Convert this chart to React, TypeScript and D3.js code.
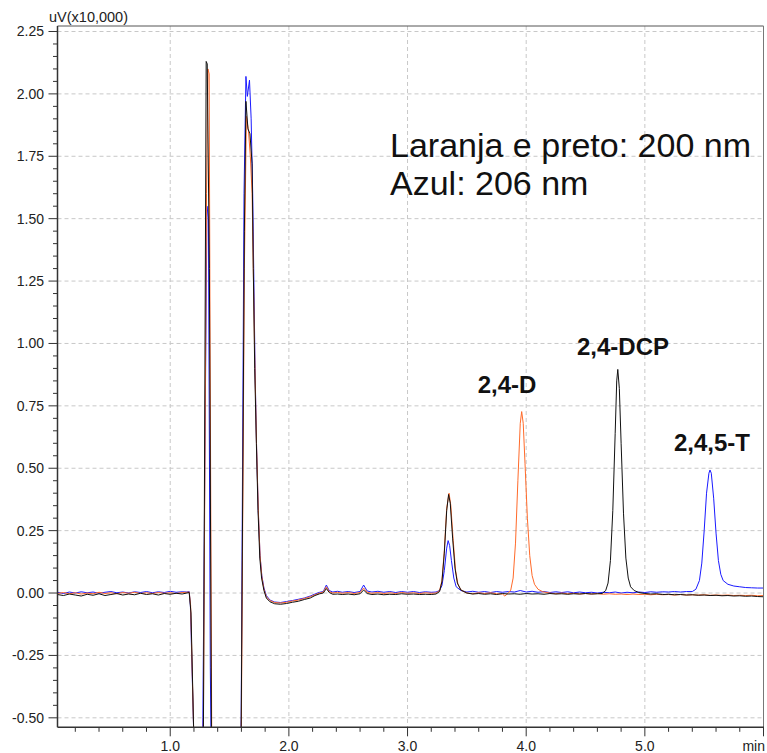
import React from "react";
import * as d3 from "d3";

// Chromatogram traces: [time (min), signal (uV x10,000)]
const blackTrace: [number, number][] = [
  [0.05, -0.006], [0.1, -0.01], [0.15, -0.004], [0.2, -0.008], [0.25, -0.012], [0.3, -0.005],
  [0.35, -0.009], [0.4, -0.003], [0.45, -0.01], [0.5, -0.006], [0.55, -0.002], [0.6, -0.008],
  [0.65, -0.004], [0.7, -0.007], [0.75, -0.001], [0.8, -0.006], [0.85, -0.003], [0.9, -0.008],
  [0.95, -0.002], [1.0, -0.005], [1.05, -0.001], [1.1, -0.004], [1.14, 0.0], [1.16, 0.002],
  [1.175, -0.08], [1.205, -0.7], [1.22, -0.9], [1.265, -0.9], [1.28, -0.55], [1.303, 2.13],
  [1.312, 2.12], [1.33, 1.3], [1.348, -0.6], [1.36, -0.9], [1.585, -0.9], [1.598, -0.55],
  [1.625, 1.45], [1.638, 1.97], [1.655, 1.86], [1.672, 1.84], [1.69, 1.72], [1.7, 1.3],
  [1.712, 0.9], [1.726, 0.6], [1.74, 0.33], [1.755, 0.14], [1.77, 0.06], [1.79, 0.01],
  [1.81, -0.02], [1.84, -0.035], [1.88, -0.043], [1.93, -0.045], [1.98, -0.042], [2.03, -0.037],
  [2.08, -0.033], [2.13, -0.026], [2.18, -0.02], [2.22, -0.01], [2.26, -0.003], [2.29, 0.0],
  [2.316, 0.018], [2.34, 0.002], [2.37, -0.005], [2.41, -0.004], [2.45, -0.006], [2.5, -0.004],
  [2.55, -0.007], [2.6, -0.003], [2.63, 0.012], [2.66, -0.002], [2.7, -0.006], [2.75, -0.004],
  [2.8, -0.007], [2.85, -0.005], [2.9, -0.006], [2.95, -0.003], [3.0, -0.005], [3.05, -0.004],
  [3.1, -0.006], [3.15, -0.005], [3.2, -0.006], [3.24, -0.004], [3.27, 0.006], [3.29, 0.045],
  [3.31, 0.16], [3.33, 0.33], [3.346, 0.395], [3.36, 0.36], [3.38, 0.22], [3.4, 0.1],
  [3.42, 0.04], [3.45, 0.012], [3.5, 0.0], [3.55, -0.004], [3.6, -0.002], [3.65, -0.005],
  [3.7, -0.003], [3.75, -0.006], [3.8, -0.002], [3.85, -0.004], [3.9, -0.003], [3.95, -0.005],
  [4.0, -0.002], [4.05, -0.004], [4.1, -0.003], [4.15, -0.005], [4.2, -0.002], [4.25, -0.004],
  [4.3, -0.003], [4.35, -0.005], [4.4, -0.003], [4.45, -0.004], [4.5, -0.002], [4.55, -0.004],
  [4.6, -0.003], [4.64, -0.002], [4.67, 0.01], [4.69, 0.04], [4.71, 0.13], [4.73, 0.33],
  [4.75, 0.64], [4.763, 0.85], [4.772, 0.896], [4.785, 0.82], [4.8, 0.6], [4.82, 0.32],
  [4.84, 0.14], [4.86, 0.06], [4.88, 0.025], [4.91, 0.01], [4.95, 0.002], [5.0, -0.002],
  [5.05, -0.004], [5.1, -0.003], [5.15, -0.006], [5.2, -0.005], [5.25, -0.007], [5.3, -0.006],
  [5.35, -0.008], [5.4, -0.007], [5.45, -0.009], [5.5, -0.008], [5.55, -0.01], [5.6, -0.009],
  [5.65, -0.011], [5.7, -0.01], [5.75, -0.012], [5.8, -0.011], [5.85, -0.013], [5.9, -0.012],
  [5.95, -0.014], [6.0, -0.015],
];

const orangeTrace: [number, number][] = [
  [0.05, -0.002], [0.1, 0.002], [0.15, -0.003], [0.2, 0.001], [0.25, -0.004], [0.3, 0.0],
  [0.35, -0.003], [0.4, 0.003], [0.45, -0.002], [0.5, 0.001], [0.55, -0.003], [0.6, 0.002],
  [0.65, -0.001], [0.7, 0.003], [0.75, -0.002], [0.8, 0.001], [0.85, -0.002], [0.9, 0.002],
  [0.95, -0.001], [1.0, 0.001], [1.05, -0.002], [1.1, 0.002], [1.14, 0.003], [1.16, 0.004],
  [1.172, -0.05], [1.2, -0.6], [1.215, -0.9], [1.265, -0.9], [1.28, -0.5], [1.306, 1.6],
  [1.318, 2.1], [1.328, 2.08], [1.336, 1.0], [1.35, -0.6], [1.36, -0.9], [1.585, -0.9],
  [1.6, -0.5], [1.625, 1.3], [1.642, 1.91], [1.66, 1.85], [1.675, 1.75], [1.69, 1.6],
  [1.7, 1.3], [1.712, 0.95], [1.727, 0.6], [1.742, 0.34], [1.757, 0.15], [1.772, 0.065],
  [1.79, 0.015], [1.81, -0.015], [1.84, -0.03], [1.88, -0.038], [1.93, -0.04], [1.98, -0.037],
  [2.03, -0.032], [2.08, -0.028], [2.13, -0.022], [2.18, -0.015], [2.22, -0.007], [2.26, 0.0],
  [2.29, 0.004], [2.316, 0.025], [2.34, 0.006], [2.37, 0.0], [2.41, 0.003], [2.45, -0.001],
  [2.5, 0.002], [2.55, -0.002], [2.6, 0.002], [2.63, 0.02], [2.66, 0.003], [2.7, -0.001],
  [2.75, 0.002], [2.8, -0.002], [2.85, 0.001], [2.9, -0.002], [2.95, 0.002], [3.0, -0.001],
  [3.05, 0.001], [3.1, -0.002], [3.15, 0.001], [3.2, -0.001], [3.24, 0.0], [3.27, 0.01],
  [3.29, 0.05], [3.31, 0.17], [3.33, 0.34], [3.35, 0.4], [3.365, 0.35], [3.385, 0.21],
  [3.405, 0.09], [3.425, 0.035], [3.45, 0.012], [3.5, 0.0], [3.55, -0.003], [3.6, 0.001],
  [3.65, -0.002], [3.7, 0.001], [3.75, -0.003], [3.8, -0.004], [3.82, -0.012], [3.85, 0.0],
  [3.87, 0.012], [3.89, 0.06], [3.91, 0.2], [3.93, 0.45], [3.95, 0.68], [3.962, 0.727],
  [3.975, 0.68], [3.99, 0.52], [4.01, 0.3], [4.03, 0.15], [4.05, 0.07], [4.07, 0.035],
  [4.1, 0.015], [4.14, 0.005], [4.2, 0.0], [4.25, -0.003], [4.3, 0.0], [4.35, -0.003],
  [4.4, -0.001], [4.45, -0.004], [4.5, -0.002], [4.55, -0.004], [4.6, -0.002], [4.65, -0.005],
  [4.7, -0.003], [4.75, -0.005], [4.8, -0.004], [4.85, -0.006], [4.9, -0.004], [4.95, -0.006],
  [5.0, -0.005], [5.05, -0.007], [5.1, -0.005], [5.15, -0.007], [5.2, -0.006], [5.25, -0.008],
  [5.3, -0.006], [5.35, -0.008], [5.4, -0.007], [5.45, -0.008], [5.5, -0.007], [5.55, -0.009],
  [5.6, -0.008], [5.65, -0.009], [5.7, -0.008], [5.75, -0.01], [5.8, -0.009], [5.85, -0.01],
  [5.9, -0.009], [5.95, -0.011], [6.0, -0.01],
];

const blueTrace: [number, number][] = [
  [0.05, 0.003], [0.1, -0.002], [0.15, 0.004], [0.2, 0.0], [0.25, 0.005], [0.3, 0.001],
  [0.35, 0.004], [0.4, -0.001], [0.45, 0.003], [0.5, 0.006], [0.55, 0.001], [0.6, 0.004],
  [0.65, 0.0], [0.7, 0.005], [0.75, 0.002], [0.8, 0.006], [0.85, 0.001], [0.9, 0.005],
  [0.95, 0.002], [1.0, 0.007], [1.05, 0.003], [1.1, 0.005], [1.14, 0.004], [1.16, 0.006],
  [1.17, -0.05], [1.2, -0.6], [1.215, -0.9], [1.262, -0.9], [1.275, -0.5], [1.3, 1.0],
  [1.31, 1.55], [1.322, 1.5], [1.338, -0.3], [1.35, -0.9], [1.585, -0.9], [1.598, -0.5],
  [1.622, 1.6], [1.638, 2.07], [1.65, 1.99], [1.668, 2.055], [1.682, 1.9], [1.695, 1.6],
  [1.705, 1.25], [1.715, 0.9], [1.728, 0.58], [1.742, 0.33], [1.757, 0.15], [1.772, 0.07],
  [1.79, 0.02], [1.81, -0.01], [1.84, -0.028], [1.88, -0.036], [1.93, -0.038], [1.98, -0.034],
  [2.03, -0.03], [2.08, -0.025], [2.13, -0.02], [2.18, -0.012], [2.22, -0.004], [2.26, 0.003],
  [2.29, 0.006], [2.316, 0.032], [2.34, 0.01], [2.37, 0.004], [2.41, 0.007], [2.45, 0.003],
  [2.5, 0.006], [2.55, 0.002], [2.6, 0.006], [2.63, 0.032], [2.66, 0.008], [2.7, 0.004],
  [2.75, 0.007], [2.8, 0.003], [2.85, 0.006], [2.9, 0.002], [2.95, 0.006], [3.0, 0.003],
  [3.05, 0.006], [3.1, 0.002], [3.15, 0.005], [3.2, 0.003], [3.24, 0.004], [3.27, 0.01],
  [3.29, 0.03], [3.31, 0.09], [3.33, 0.18], [3.342, 0.21], [3.355, 0.19], [3.37, 0.13],
  [3.39, 0.06], [3.41, 0.025], [3.45, 0.01], [3.5, 0.004], [3.55, 0.007], [3.6, 0.003],
  [3.65, 0.006], [3.7, 0.002], [3.75, 0.006], [3.8, 0.003], [3.85, 0.006], [3.9, 0.004],
  [3.95, 0.01], [4.0, 0.004], [4.05, 0.007], [4.1, 0.003], [4.15, 0.006], [4.2, 0.002],
  [4.25, 0.005], [4.3, 0.002], [4.35, 0.005], [4.4, 0.001], [4.45, 0.004], [4.5, 0.001],
  [4.55, 0.003], [4.6, 0.0], [4.65, 0.003], [4.7, 0.001], [4.75, 0.004], [4.8, 0.0],
  [4.85, 0.003], [4.9, 0.001], [4.95, 0.004], [5.0, 0.002], [5.05, 0.005], [5.1, 0.003],
  [5.15, 0.005], [5.2, 0.004], [5.25, 0.006], [5.3, 0.004], [5.35, 0.006], [5.4, 0.006],
  [5.43, 0.015], [5.46, 0.05], [5.48, 0.12], [5.5, 0.25], [5.52, 0.4], [5.54, 0.48],
  [5.549, 0.493], [5.56, 0.48], [5.58, 0.38], [5.6, 0.24], [5.62, 0.13], [5.64, 0.075],
  [5.66, 0.05], [5.7, 0.035], [5.75, 0.028], [5.8, 0.025], [5.85, 0.022], [5.9, 0.021],
  [5.95, 0.02], [6.0, 0.02],
];

const xMajorTicks = [1, 2, 3, 4, 5];
const xTickLabels = ["1.0", "2.0", "3.0", "4.0", "5.0"];
const yMajorTicks = [-0.5, -0.25, 0, 0.25, 0.5, 0.75, 1.0, 1.25, 1.5, 1.75, 2.0, 2.25];
const yTickLabels = ["-0.50", "-0.25", "0.00", "0.25", "0.50", "0.75", "1.00", "1.25", "1.50", "1.75", "2.00", "2.25"];

const peakLabels = [
  { text: "2,4-D", t: 3.962, v: 0.727 },
  { text: "2,4-DCP", t: 4.772, v: 0.896 },
  { text: "2,4,5-T", t: 5.549, v: 0.493 },
];

const W = 767;
const H = 753;
const left = 57.5;
const right = 763.5;
const top = 26;
const bottom = 727.3;

export default function App() {
  const x = d3.scaleLinear().domain([0.05, 6.0]).range([left, right]);
  const y = d3.scaleLinear().domain([-0.538, 2.272]).range([bottom, top]);
  const line = d3
    .line<[number, number]>()
    .x((d) => x(d[0]))
    .y((d) => y(d[1]));

  const xMinor = d3.range(1, 31).map((i) => i * 0.2);
  const yMinor = d3.range(-10, 46).map((i) => i * 0.05);
  const font = "Arial, 'Liberation Sans', sans-serif";

  return (
    <svg
      width={W}
      height={H}
      style={{ position: "absolute", left: 0, top: 0, background: "#fff" }}
      fontFamily={font}
    >
      <defs>
        <clipPath id="plotClip">
          <rect x={left} y={top} width={right - left} height={bottom - top} />
        </clipPath>
      </defs>
      <rect width={W} height={H} fill="#fff" />

      {/* grid */}
      <g stroke="#c8c8c8" strokeWidth={1} strokeDasharray="4,3">
        {xMajorTicks.map((t) => (
          <line key={"gx" + t} x1={x(t)} x2={x(t)} y1={top} y2={bottom} />
        ))}
        {yMajorTicks.map((v) => (
          <line key={"gy" + v} x1={left} x2={right} y1={y(v)} y2={y(v)} />
        ))}
      </g>

      {/* traces */}
      <g clipPath="url(#plotClip)" fill="none" strokeWidth={1} strokeLinejoin="round">
        <path d={line(blueTrace) || ""} stroke="#1a1aff" />
        <path d={line(orangeTrace) || ""} stroke="#ff6a2a" />
        <path d={line(blackTrace) || ""} stroke="#111" />
      </g>

      {/* frame */}
      <line x1={left} x2={right} y1={top} y2={top} stroke="#555" strokeWidth={1} />
      <line x1={right} x2={right} y1={top} y2={bottom} stroke="#777" strokeWidth={1} />
      <line x1={left} x2={left} y1={top} y2={bottom} stroke="#333" strokeWidth={1.5} />
      <line x1={left} x2={right + 0.5} y1={bottom} y2={bottom} stroke="#333" strokeWidth={1.5} />

      {/* x ticks */}
      <g stroke="#333" strokeWidth={1}>
        {xMinor.map((t) => {
          const isMajor = Math.abs(t - Math.round(t)) < 1e-6 && t >= 1;
          return (
            <line key={"xt" + t} x1={x(t)} x2={x(t)} y1={bottom} y2={bottom + (isMajor ? 9 : 4.5)} />
          );
        })}
      </g>
      <g fontSize={14} fill="#222" textAnchor="middle">
        {xMajorTicks.map((t, i) => (
          <text key={"xl" + t} x={x(t)} y={751}>
            {xTickLabels[i]}
          </text>
        ))}
        <text x={765} y={751} textAnchor="end">
          min
        </text>
      </g>

      {/* y ticks */}
      <g stroke="#333" strokeWidth={1}>
        {yMinor.map((v) => {
          const isMajor = Math.abs(v * 4 - Math.round(v * 4)) < 1e-6;
          return (
            <line key={"yt" + v} x1={left - (isMajor ? 9 : 4.5)} x2={left} y1={y(v)} y2={y(v)} />
          );
        })}
      </g>
      <g fontSize={14} fill="#222" textAnchor="end">
        {yMajorTicks.map((v, i) => (
          <text key={"yl" + v} x={44} y={y(v) + 5}>
            {yTickLabels[i]}
          </text>
        ))}
      </g>
      <text x={49} y={22} fontSize={14.5} fill="#222">
        uV(x10,000)
      </text>

      {/* annotations */}
      <g fontSize={34} fill="#111">
        <text x={390} y={157}>Laranja e preto: 200 nm</text>
        <text x={390} y={195}>Azul: 206 nm</text>
      </g>
      <g fontSize={24} fontWeight="bold" fill="#111" textAnchor="middle">
        {peakLabels.map((p, i) => (
          <text key={p.text} x={[507, 623, 712][i]} y={y(p.v) - [19, 14, 19][i]}>
            {p.text}
          </text>
        ))}
      </g>
    </svg>
  );
}
